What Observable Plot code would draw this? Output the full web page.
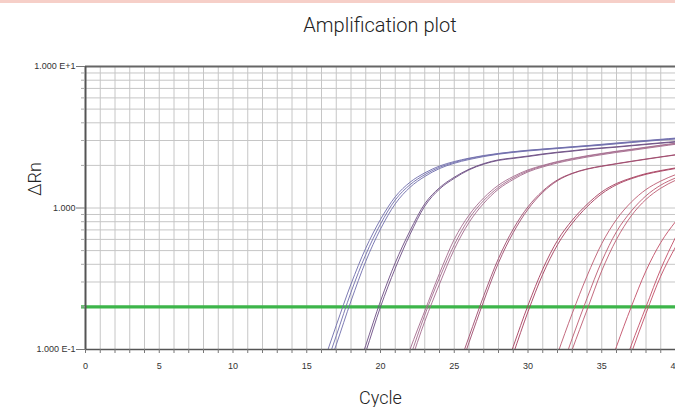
<!DOCTYPE html>
<html>
<head>
<meta charset="utf-8">
<script src="https://cdn.jsdelivr.net/npm/d3@7"></script>
<script src="https://cdn.jsdelivr.net/npm/@observablehq/plot@0.6"></script>
<style>
  html, body { margin: 0; padding: 0; background: #fff; }
  #wrap { width: 675px; height: 407px; overflow: hidden; position: relative; }
  #band { height: 3px; background: #f6cfc8; }
  #title { height: 45px; line-height: 44px; text-align: center; padding-left: 85px;
           font-family: Roboto, "Open Sans", sans-serif; font-size: 20px; font-weight: 300; color: #222; }
  svg { display: block; }
</style>
</head>
<body>
<div id="wrap">
  <div id="band"></div>
  <div id="title">Amplification plot</div>
  <div id="chart"></div>
</div>
<script>
// ---- data ----
const titleText = "Amplification plot";
const yLabel = "ΔRn";
const xLabel = "Cycle";
const threshold = 0.2;
const xTicks = d3.range(0, 41);               // one tick per cycle
const yMajorTicks = [0.1, 1, 10];
const yMajorLabels = ["1.000 E-1", "1.000", "1.000 E+1"];
const yMinorTicks = [0.2,0.3,0.4,0.5,0.6,0.7,0.8,0.9,2,3,4,5,6,7,8,9];

// dilution groups: colour per group
const groupColors = ["#6e6cac", "#6b4c82", "#a46a8c", "#9e4a6c", "#a63c5c", "#bc5a70", "#c24e66"];

// each curve: first cycle, group index, ΔRn values per cycle up to cycle 40
const g1a = [0.073,0.148,0.29,0.52,0.83,1.20,1.52,1.77,1.98,2.13,2.25,2.35,2.43,2.50,2.56,2.61,2.66,2.71,2.76,2.82,2.88,2.94,3.00,3.06,3.12];
const g1b = [0.062,0.125,0.254,0.468,0.77,1.14,1.46,1.72,1.94,2.10,2.23,2.33,2.42,2.49,2.55,2.60,2.65,2.70,2.75,2.80,2.86,2.92,2.98,3.04,3.10];
const g1c = [0.054,0.108,0.22,0.42,0.71,1.07,1.40,1.67,1.90,2.07,2.20,2.31,2.40,2.47,2.53,2.58,2.63,2.68,2.73,2.78,2.84,2.90,2.96,3.02,3.07];
const g2a = [0.052,0.107,0.22,0.41,0.69,1.07,1.39,1.65,1.88,2.06,2.19,2.26,2.33,2.41,2.48,2.54,2.61,2.66,2.71,2.77,2.83,2.89,2.95];
const g2b = [0.047,0.096,0.20,0.375,0.65,1.03,1.36,1.62,1.86,2.04,2.17,2.24,2.31,2.39,2.46,2.52,2.59,2.64,2.69,2.75,2.81,2.87,2.92];
const g3a = [0.05,0.10,0.187,0.345,0.60,0.89,1.18,1.45,1.67,1.86,2.00,2.13,2.24,2.34,2.43,2.52,2.60,2.69,2.78,2.87];
const g3b = [0.044,0.088,0.175,0.32,0.55,0.84,1.13,1.40,1.63,1.83,1.98,2.11,2.22,2.32,2.41,2.50,2.58,2.67,2.76,2.85];
const g3c = [0.04,0.079,0.158,0.29,0.51,0.79,1.08,1.36,1.59,1.80,1.95,2.08,2.19,2.29,2.38,2.47,2.55,2.64,2.73,2.82];
const g4a = [0.062,0.123,0.24,0.44,0.71,1.02,1.32,1.58,1.76,1.89,1.98,2.06,2.14,2.22,2.30,2.38];
const g4b = [0.056,0.112,0.22,0.41,0.67,0.98,1.29,1.56,1.75,1.88,1.97,2.05,2.13,2.21,2.29,2.37];
const g5a = [0.052,0.105,0.205,0.37,0.59,0.82,1.06,1.30,1.49,1.63,1.75,1.84,1.92];
const g5b = [0.046,0.093,0.185,0.34,0.55,0.78,1.02,1.26,1.46,1.61,1.73,1.82,1.90];
const g6a = [0.093,0.18,0.33,0.56,0.83,1.10,1.35,1.55,1.72];
const g6b = [0.06,0.12,0.23,0.42,0.68,0.95,1.22,1.45,1.63];
const g6c = [0.05,0.10,0.19,0.36,0.60,0.88,1.15,1.38,1.57];
const g7a = [0.052,0.105,0.20,0.36,0.57,0.80];
const g7b = [0.054,0.107,0.20,0.37,0.62];
const g7c = [0.047,0.094,0.18,0.33,0.53];

const curveValues = [g1a,g1b,g1c,g2a,g2b,g3a,g3b,g3c,g4a,g4b,g5a,g5b,g6a,g6b,g6c,g7a,g7b,g7c];
const curveStart  = [16,16,16,18,18,21,21,21,25,25,28,28,32,32,32,35,36,36];
const curveGroup  = [0,0,0,1,1,2,2,2,3,3,4,4,5,5,5,6,6,6];

// ---- table for the library ----
const rows = [];
curveValues.forEach((vals, i) => {
  vals.forEach((v, j) => rows.push({id: i, cycle: curveStart[i] + j, value: v, color: groupColors[curveGroup[i]]}));
});

document.getElementById("title").textContent = titleText;

const chart = Plot.plot({
  width: 675,
  height: 359,
  marginTop: 18,
  marginBottom: 58,
  marginLeft: 85,
  marginRight: 0,
  x: {domain: [0, 40]},
  y: {type: "log", domain: [0.1, 10]},
  style: {fontFamily: "'Liberation Sans', Arial, sans-serif", fontSize: "9px", color: "#333", background: "#fff", overflow: "visible"},
  marks: [
    Plot.gridX(xTicks, {stroke: "#c6c6c6", strokeOpacity: 1}),
    Plot.gridY(yMinorTicks.concat(yMajorTicks), {stroke: "#c6c6c6", strokeOpacity: 1}),
    Plot.ruleY([threshold], {stroke: "#3db54a", strokeWidth: 3.2, insetLeft: -4}),
    Plot.line(rows, {x: "cycle", y: "value", z: "id", stroke: "color", strokeWidth: 0.9, curve: "monotone-x", clip: true}),
    Plot.ruleY([10], {stroke: "#666", strokeWidth: 2}),
    Plot.ruleY([0.1], {stroke: "#555", strokeWidth: 1.6}),
    Plot.ruleX([0], {stroke: "#555", strokeWidth: 2}),
    Plot.axisX(xTicks, {tickSize: 4, tickPadding: 9, stroke: "#777", tickFormat: d => d % 5 === 0 ? String(d) : "", label: null}),
    Plot.axisY(yMajorTicks, {tickSize: 9, tickPadding: 1, stroke: "#777", tickFormat: d => yMajorLabels[yMajorTicks.indexOf(d)], label: null}),
    Plot.axisY(yMinorTicks, {tickSize: 4, stroke: "#aaa", tickFormat: () => "", label: null}),
    Plot.text([yLabel], {frameAnchor: "left", dx: -50, dy: -12, rotate: -90, fontSize: 18, fontFamily: "Roboto, sans-serif", fontWeight: 300, fill: "#222"}),
    Plot.text([xLabel], {frameAnchor: "bottom", dy: 54, fontSize: 18, fontFamily: "Roboto, sans-serif", fontWeight: 300, fill: "#222"})
  ]
});
document.getElementById("chart").appendChild(chart);
</script>
</body>
</html>
